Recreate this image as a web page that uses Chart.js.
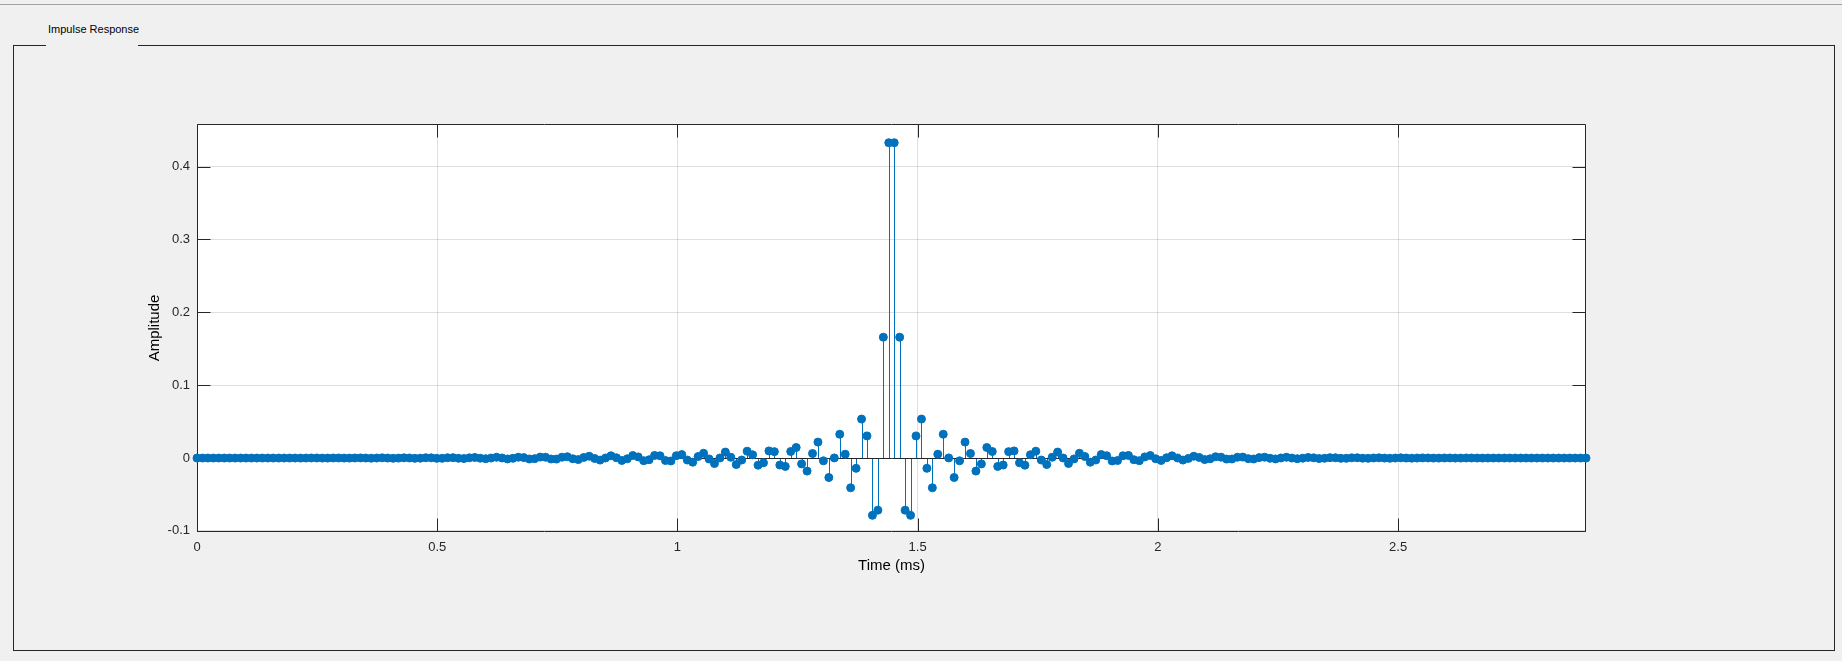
<!DOCTYPE html>
<html>
<head>
<meta charset="utf-8">
<title>Impulse Response</title>
<script src="https://cdn.jsdelivr.net/npm/chart.js@4/dist/chart.umd.min.js"></script>
<style>
  html, body { margin: 0; padding: 0; background: #f0f0f0; overflow: hidden; }
  #topline { position: absolute; left: 0; top: 4px; width: 1842px; height: 1px; background: #a0a0a0; }
  #panel { position: absolute; left: 13px; top: 45px; width: 1822px; height: 606px; box-sizing: border-box; border: 1px solid #262626; }
  #tabgap { position: absolute; left: 46px; top: 44px; width: 92px; height: 3px; background: #f0f0f0; }
  #tablabel { position: absolute; left: 48px; top: 23px; font: 11px "Liberation Sans", Arial, sans-serif; line-height: 13px; color: #000; white-space: nowrap; }
  #wrap { position: absolute; left: 0; top: 0; width: 1842px; height: 661px; }
</style>
</head>
<body>
<div id="topline"></div>
<div id="panel"></div>
<div id="tabgap"></div>
<div id="tablabel">Impulse Response</div>
<div id="wrap"><canvas id="irChart" width="1842" height="661"></canvas></div>
<script>
// impulse response samples (256 taps, symmetric)
const impulse = [
  0, 0, 0, 0, 0, 0, 0, 0, 0, 0, 0, 0, 0, 0, 0, 0,
  0, 0, 0, -0.0001, 0, 0.0001, 0.0001, -0.0001, -0.0001, 0.0001, 0.0001, -0.0001, -0.0001, 0.0001, 0.0002, 0,
  -0.0002, 0, 0.0003, 0, -0.0003, -0.0001, 0.0003, 0.0001, -0.0004, -0.0002, 0.0004, 0.0003, -0.0004, -0.0004, 0.0004, 0.0005,
  -0.0003, -0.0007, 0.0003, 0.0008, -0.0002, -0.0009, 0, 0.0011, 0.0001, -0.0012, -0.0003, 0.0012, 0.0006, -0.0013, -0.0008, 0.0013,
  0.0011, -0.0013, -0.0014, 0.0012, 0.0018, -0.0010, -0.0021, 0.0008, 0.0025, -0.0005, -0.0028, 0.0001, 0.0031, 0.0004, -0.0033, -0.0010,
  0.0035, 0.0016, -0.0036, -0.0023, 0.0036, 0.0031, -0.0034, -0.0040, 0.0032, 0.0048, -0.0027, -0.0057, 0.0021, 0.0066, -0.0012, -0.0075,
  0.0001, 0.0082, 0.0011, -0.0089, -0.0027, 0.0094, 0.0045, -0.0098, -0.0065, 0.0098, 0.0088, -0.0096, -0.0115, 0.0090, 0.0145, -0.0080,
  -0.0179, 0.0063, 0.0219, -0.0038, -0.0267, 0.0002, 0.0327, 0.0053, -0.0408, -0.0141, 0.0535, 0.0304, -0.0786, -0.0715, 0.1659, 0.4328,
  0.4328, 0.1659, -0.0715, -0.0786, 0.0304, 0.0535, -0.0141, -0.0408, 0.0053, 0.0327, 0.0002, -0.0267, -0.0038, 0.0219, 0.0063, -0.0179,
  -0.0080, 0.0145, 0.0090, -0.0115, -0.0096, 0.0088, 0.0098, -0.0065, -0.0098, 0.0045, 0.0094, -0.0027, -0.0089, 0.0011, 0.0082, 0.0001,
  -0.0075, -0.0012, 0.0066, 0.0021, -0.0057, -0.0027, 0.0048, 0.0032, -0.0040, -0.0034, 0.0031, 0.0036, -0.0023, -0.0036, 0.0016, 0.0035,
  -0.0010, -0.0033, 0.0004, 0.0031, 0.0001, -0.0028, -0.0005, 0.0025, 0.0008, -0.0021, -0.0010, 0.0018, 0.0012, -0.0014, -0.0013, 0.0011,
  0.0013, -0.0008, -0.0013, 0.0006, 0.0012, -0.0003, -0.0012, 0.0001, 0.0011, 0, -0.0009, -0.0002, 0.0008, 0.0003, -0.0007, -0.0003,
  0.0005, 0.0004, -0.0004, -0.0004, 0.0003, 0.0004, -0.0002, -0.0004, 0.0001, 0.0003, -0.0001, -0.0003, 0, 0.0003, 0, -0.0002,
  0, 0.0002, 0.0001, -0.0001, -0.0001, 0.0001, 0.0001, -0.0001, -0.0001, 0.0001, 0.0001, 0, -0.0001, 0, 0, 0,
  0, 0, 0, 0, 0, 0, 0, 0, 0, 0, 0, 0, 0, 0, 0, 0
];
const sampleRateKHz = 88.2;
const timeMs = impulse.map((_, n) => n / sampleRateKHz);

const xTicks = [0, 0.5, 1, 1.5, 2, 2.5];
const yTicks = [-0.1, 0, 0.1, 0.2, 0.3, 0.4];
const yRange = [-0.1015, 0.4585];

const blue = '#0072BD';
const axisColor = '#262626';
const tickLen = 13;

// white plot area, box with inward ticks, stems and baseline
const stemPlugin = {
  id: 'stems',
  beforeDraw(chart) {
    const { ctx, chartArea: a } = chart;
    ctx.save();
    ctx.fillStyle = '#ffffff';
    ctx.fillRect(a.left, a.top, a.right - a.left, a.bottom - a.top);
    ctx.restore();
  },
  beforeDatasetsDraw(chart) {
    const { ctx, chartArea: a, scales: { x, y } } = chart;
    const L = Math.round(a.left) + 0.5, R = Math.round(a.right) - 0.5;
    const T = Math.round(a.top) + 0.5, B = Math.round(a.bottom) - 0.5;
    ctx.save();
    ctx.strokeStyle = axisColor;
    ctx.lineWidth = 1;
    ctx.beginPath();
    ctx.rect(L, T, R - L, B - T);
    xTicks.forEach(v => {
      const px = Math.round(x.getPixelForValue(v)) + 0.5;
      ctx.moveTo(px, B); ctx.lineTo(px, B - tickLen);
      ctx.moveTo(px, T); ctx.lineTo(px, T + tickLen);
    });
    yTicks.forEach(v => {
      const py = Math.round(y.getPixelForValue(v)) + 0.5;
      ctx.moveTo(L, py); ctx.lineTo(L + tickLen, py);
      ctx.moveTo(R, py); ctx.lineTo(R - tickLen, py);
    });
    ctx.stroke();

    const y0 = Math.round(y.getPixelForValue(0)) + 0.5;
    ctx.strokeStyle = blue;
    ctx.beginPath();
    impulse.forEach((v, i) => {
      const px = Math.round(x.getPixelForValue(timeMs[i])) + 0.5;
      ctx.moveTo(px, y0);
      ctx.lineTo(px, y.getPixelForValue(v));
    });
    ctx.stroke();

    ctx.strokeStyle = axisColor;
    ctx.beginPath();
    ctx.moveTo(x.getPixelForValue(timeMs[0]), y0);
    ctx.lineTo(x.getPixelForValue(timeMs[timeMs.length - 1]), y0);
    ctx.stroke();
    ctx.restore();
  }
};

const tickFont = { family: '"Liberation Sans", Arial, sans-serif', size: 13 };
const titleFont = { family: '"Liberation Sans", Arial, sans-serif', size: 15 };
const gridColor = 'rgba(38,38,38,0.15)';

new Chart(document.getElementById('irChart'), {
  type: 'scatter',
  data: {
    datasets: [{
      data: impulse.map((v, i) => ({ x: timeMs[i], y: v })),
      backgroundColor: blue,
      borderColor: blue,
      pointRadius: 4,
      pointBorderWidth: 1,
      pointHoverRadius: 4,
      clip: false
    }]
  },
  plugins: [stemPlugin],
  options: {
    responsive: false,
    animation: false,
    devicePixelRatio: 1,
    layout: { padding: { left: 146, right: 256, top: 124, bottom: 86 } },
    plugins: { legend: { display: false }, tooltip: { enabled: false } },
    events: [],
    scales: {
      x: {
        type: 'linear',
        min: 0,
        max: timeMs[timeMs.length - 1],
        afterBuildTicks: s => { s.ticks = xTicks.map(v => ({ value: v })); },
        afterFit: s => { s.height = 43; },
        ticks: { font: tickFont, color: axisColor, padding: 8, maxRotation: 0, includeBounds: false, callback: v => String(v) },
        grid: { color: gridColor, drawTicks: false },
        border: { display: false },
        title: { display: true, text: 'Time (ms)', font: titleFont, color: '#000', padding: 0 }
      },
      y: {
        type: 'linear',
        min: yRange[0],
        max: yRange[1],
        afterBuildTicks: s => { s.ticks = yTicks.map(v => ({ value: v })); },
        afterFit: s => { s.width = 51; },
        ticks: { font: tickFont, color: axisColor, padding: 7, includeBounds: false, callback: v => String(v) },
        grid: { color: gridColor, drawTicks: false },
        border: { display: false },
        title: { display: true, text: 'Amplitude', font: titleFont, color: '#000', padding: 0 }
      }
    }
  }
});
</script>
</body>
</html>
